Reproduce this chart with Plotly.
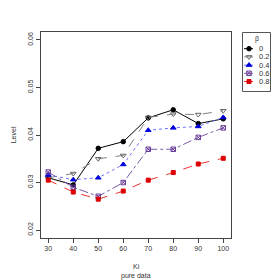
import plotly.graph_objects as go

ki = [30, 40, 50, 60, 70, 80, 90, 100]
beta_labels = ["0", "0.2", "0.4", "0.6", "0.8"]
level_b00 = [0.0310, 0.0295, 0.0372, 0.0386, 0.0436, 0.0453, 0.0424, 0.0434]
level_b02 = [0.0310, 0.0319, 0.0350, 0.0357, 0.0437, 0.0444, 0.0443, 0.0451]
level_b04 = [0.0316, 0.0306, 0.0310, 0.0338, 0.0410, 0.0415, 0.0418, 0.0437]
level_b06 = [0.0322, 0.0290, 0.0271, 0.0300, 0.0370, 0.0370, 0.0395, 0.0415]
level_b08 = [0.0305, 0.0280, 0.0265, 0.0282, 0.0305, 0.0321, 0.0339, 0.0351]
y_ticks = [0.02, 0.03, 0.04, 0.05, 0.06]
x_ticks = [30, 40, 50, 60, 70, 80, 90, 100]
ref_level = 0.05

series = [level_b00, level_b02, level_b04, level_b06, level_b08]
styles = [
    dict(dash="solid", symbol="circle", mcolor="black", lcolor="black", size=4.5),
    dict(dash="dash", symbol="triangle-down-open", mcolor="#666666", lcolor="#808080", size=5),
    dict(dash="dot", symbol="triangle-up", mcolor="#0000dd", lcolor="#7070ff", size=5),
    dict(dash="dashdot", symbol="square-x-open", mcolor="#6a3d9a", lcolor="#7b5aa6", size=4.5),
    dict(dash="dash", symbol="square", mcolor="#dd0000", lcolor="#ee3030", size=4),
]

# layout geometry (pixels)
W, H = 280, 280
L, T, B = 41, 32, 42
PLOT_R = 231
area_w = W - L
main_dom = [0, (PLOT_R - L) / area_w]
plot_h = H - T - B
LEG_L, LEG_R, LEG_T, LEG_B = 242.5, 270.5, 32.5, 91.5
leg_xdom = [(LEG_L - L) / area_w, (LEG_R - L) / area_w]
leg_ydom = [(H - B - LEG_B) / plot_h, (H - B - LEG_T) / plot_h]
ROW0, ROW_STEP = 16.2, 8.2

fig = go.Figure()
for lab, vals, st in zip(beta_labels, series, styles):
    fig.add_trace(go.Scatter(
        x=ki, y=vals, name=lab, mode="lines+markers", showlegend=False,
        line=dict(color=st["lcolor"], width=1, dash=st["dash"]),
        marker=dict(symbol=st["symbol"], size=st["size"], color=st["mcolor"],
                    line=dict(color=st["mcolor"], width=1)),
    ))

# hand-built legend in a small side axes (R style)
font = dict(family="Liberation Sans, Arial, sans-serif", size=7, color="#333333")
annotations = []
for i, (lab, st) in enumerate(zip(beta_labels, styles)):
    ry = ROW0 + i * ROW_STEP
    fig.add_trace(go.Scatter(
        x=[1.5, 10.5], y=[ry, ry], mode="lines", xaxis="x2", yaxis="y2",
        showlegend=False, hoverinfo="skip",
        line=dict(color=st["lcolor"], width=1, dash=st["dash"]),
    ))
    fig.add_trace(go.Scatter(
        x=[6.5], y=[ry], mode="markers", xaxis="x2", yaxis="y2",
        showlegend=False, hoverinfo="skip",
        marker=dict(symbol=st["symbol"], size=st["size"], color=st["mcolor"],
                    line=dict(color=st["mcolor"], width=1)),
    ))
    annotations.append(dict(text=lab, x=14.0, y=ry, xref="x2", yref="y2",
                            showarrow=False, xanchor="left", yanchor="middle",
                            font=dict(family=font["family"], size=7.5, color="#333333")))
annotations.append(dict(text="β", x=(LEG_R - LEG_L) / 2, y=6.2, xref="x2", yref="y2",
                        showarrow=False, xanchor="center", yanchor="middle",
                        font=dict(family=font["family"], size=7, color="#333333")))

fig.add_hline(y=ref_level, line=dict(color="#aaaaaa", width=1, dash="dot"))

annotations += [
    dict(text="Ki", x=0.5, y=(H - B - 266.7) / plot_h, xref="x domain", yref="y domain",
         showarrow=False, font=font, xanchor="center", yanchor="middle"),
    dict(text="pure data", x=0.5, y=(H - B - 275.7) / plot_h, xref="x domain", yref="y domain",
         showarrow=False, font=font, xanchor="center", yanchor="middle"),
    dict(text="Level", x=(13.3 - L) / (PLOT_R - L), y=0.5, xref="x domain", yref="y domain",
         showarrow=False, font=font, textangle=-90, xanchor="center", yanchor="middle"),
]

fig.update_layout(
    width=W, height=H,
    margin=dict(l=L, r=0, t=T, b=B, autoexpand=False),
    paper_bgcolor="white", plot_bgcolor="white",
    font=font,
    showlegend=False,
    xaxis=dict(domain=main_dom, range=[27.1, 103.1], tickvals=x_ticks, ticks="outside",
               ticklen=4, tickcolor="#444444", showgrid=False, zeroline=False,
               showline=True, linecolor="#444444", mirror=True, linewidth=1),
    yaxis=dict(range=[0.01833, 0.06167], tickvals=y_ticks,
               ticktext=[f"{v:.2f}" for v in y_ticks], tickangle=-90,
               ticks="outside", ticklen=4, tickcolor="#444444",
               showgrid=False, zeroline=False,
               showline=True, linecolor="#444444", mirror=True, linewidth=1),
    xaxis2=dict(domain=leg_xdom, range=[0, LEG_R - LEG_L], visible=False,
                fixedrange=True, anchor="y2"),
    yaxis2=dict(domain=leg_ydom, range=[LEG_B - LEG_T, 0], visible=False,
                fixedrange=True, anchor="x2"),
    shapes=[dict(type="rect", xref="x2 domain", yref="y2 domain", x0=0, x1=1, y0=0, y1=1,
                 line=dict(color="#555555", width=1, dash="solid"),
                 fillcolor="rgba(0,0,0,0)")],
    annotations=annotations,
)

fig.write_html("out.html", config={"displayModeBar": False},
               post_script="document.body.style.margin='0';document.body.style.overflow='hidden';")
